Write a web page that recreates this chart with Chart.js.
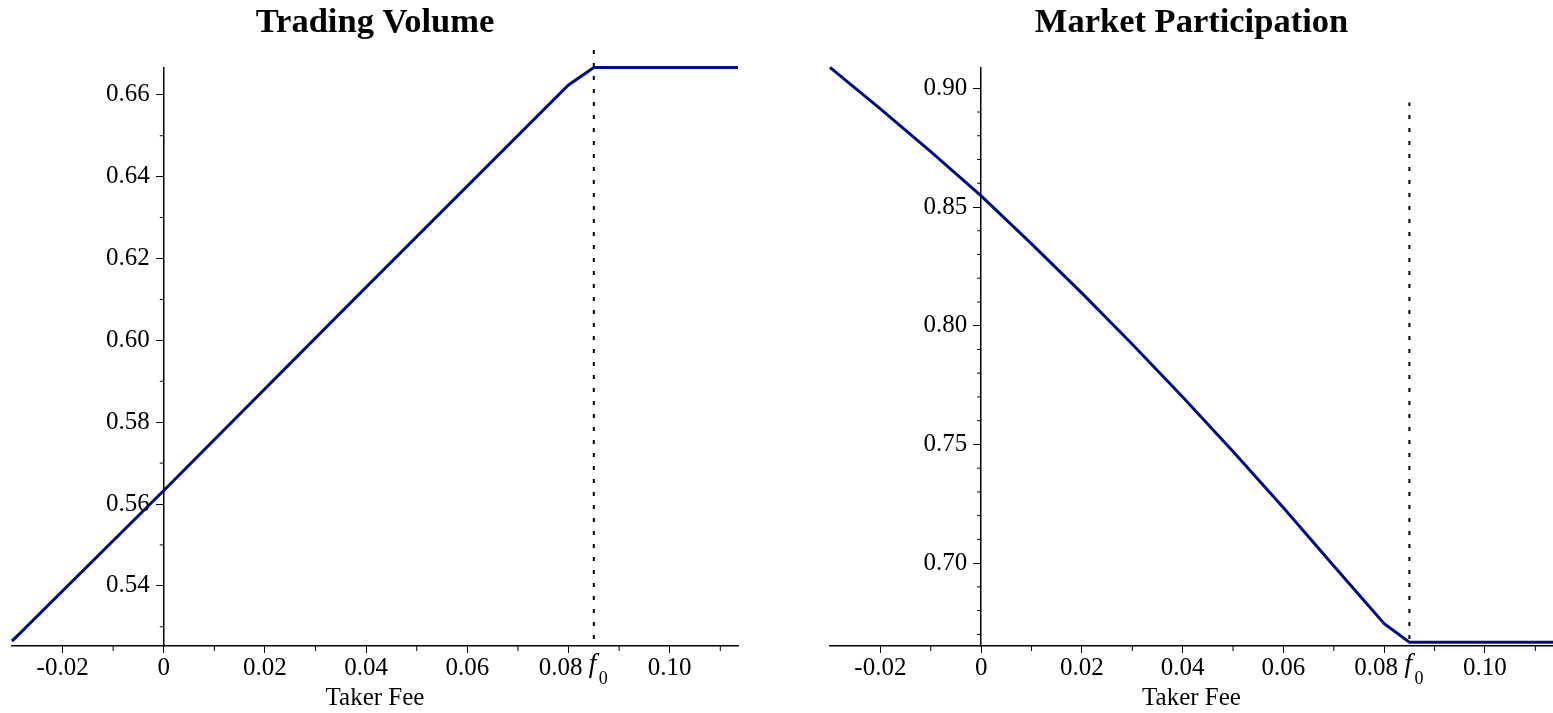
<!DOCTYPE html>
<html>
<head>
<meta charset="utf-8">
<script src="https://cdn.jsdelivr.net/npm/chart.js@4.4.0/dist/chart.umd.min.js"></script>
<style>
    body { margin: 0; background: #fff; width: 1553px; height: 713px; overflow: hidden; position: relative; }
    .box { position: absolute; top: 0; height: 713px; }
</style>
</head>
<body>
<div class="box" style="left:0;width:765px"><canvas id="volumeChart"></canvas></div>
<div class="box" style="left:788px;width:765px"><canvas id="participationChart"></canvas></div>
<script>
// Values
const feeThreshold = 0.085; // f0

const volumeFee = [-0.03, 0, 0.04, 0.08, 0.085, 0.1135];
const volumeValues = [0.5265, 0.5633, 0.6130, 0.6624, 0.6667, 0.6667];

const participationFee = [-0.03, -0.02, -0.01, 0, 0.01, 0.02, 0.03, 0.04, 0.05, 0.06, 0.07, 0.08, 0.085, 0.1135];
const participationValues = [0.9088, 0.8913, 0.8733, 0.8547, 0.8345, 0.8137, 0.7922, 0.7700, 0.7470, 0.7233, 0.6988, 0.6745, 0.6667, 0.6667];

const xTicks = [-0.02, 0, 0.02, 0.04, 0.06, 0.08, 0.10];
const xMinor = [-0.01, 0.01, 0.03, 0.05, 0.07, 0.09, 0.11];

const volumeYTicks = [0.54, 0.56, 0.58, 0.60, 0.62, 0.64, 0.66];
const volumeYMinor = [0.53, 0.55, 0.57, 0.59, 0.61, 0.63, 0.65];

const participationYTicks = [0.70, 0.75, 0.80, 0.85, 0.90];
const participationYMinor = [0.67, 0.68, 0.69, 0.71, 0.72, 0.73, 0.74, 0.76, 0.77, 0.78, 0.79,
                             0.81, 0.82, 0.83, 0.84, 0.86, 0.87, 0.88, 0.89];

Chart.defaults.font.family = '"Liberation Serif", "Times New Roman", serif';
Chart.defaults.color = '#000';

const lineColor = 'rgb(0, 14, 128)';

// the y axis sits at x = 0, push its labels clear of the tick marks;
// also nudge "0.08" left so it does not run into the f0 mark
const labelShift = {
    id: 'labelShift',
    beforeDraw(chart) {
        const yItems = chart.scales.y.getLabelItems();
        if (!yItems._shifted) {
            yItems.forEach(it => { it.options.translation[0] -= 14; });
            yItems._shifted = true;
        }
        const xItems = chart.scales.x.getLabelItems();
        if (!xItems._shifted) {
            xItems.forEach(it => { if (it.label === '0.08') it.options.translation[0] -= 8; });
            xItems._shifted = true;
        }
    }
};

// minor tick marks and the f0 label under the x axis
const extraMarks = {
    id: 'extraMarks',
    afterDraw(chart, args, opts) {
        const ctx = chart.ctx;
        const x = chart.scales.x;
        const y = chart.scales.y;
        const axisX = x.getPixelForValue(0);
        ctx.save();
        ctx.strokeStyle = '#000';
        ctx.lineWidth = 1;
        ctx.beginPath();
        xMinor.forEach(v => {
            const px = x.getPixelForValue(v);
            if (px < x.left || px > x.right) return;
            ctx.moveTo(px, x.top);
            ctx.lineTo(px, x.top + 5);
        });
        opts.yMinor.forEach(v => {
            const py = y.getPixelForValue(v);
            if (py < y.top - 1 || py > y.bottom) return;
            ctx.moveTo(axisX, py);
            ctx.lineTo(axisX - 4, py);
        });
        ctx.stroke();

        const fx = x.getPixelForValue(feeThreshold);
        ctx.fillStyle = '#000';
        ctx.textBaseline = 'alphabetic';
        ctx.font = 'italic 27px "Liberation Serif"';
        ctx.fillText('f', fx - 5, x.top + 26);
        ctx.font = '18px "Liberation Serif"';
        ctx.fillText('0', fx + 5, x.top + 38);
        ctx.restore();
    }
};

function makeChart(id, title, fees, values, yMin, yMax, yTicks, yMinor, dashTop, padding) {
    const ctx = document.getElementById(id);
    return new Chart(ctx, {
        type: 'line',
        data: {
            datasets: [{
                data: fees.map((f, i) => ({ x: f, y: values[i] })),
                borderColor: lineColor,
                borderWidth: 3,
                pointRadius: 0,
                tension: 0,
                clip: 3
            }, {
                data: [{ x: feeThreshold, y: yMin + (yMax - yMin) * 0.012 }, { x: feeThreshold, y: dashTop }],
                borderColor: '#000',
                borderWidth: 2,
                borderDash: [4, 9],
                pointRadius: 0,
                clip: false
            }]
        },
        options: {
            responsive: true,
            maintainAspectRatio: false,
            animation: false,
            layout: { padding: padding },
            scales: {
                x: {
                    type: 'linear',
                    min: -0.03,
                    max: 0.1135,
                    afterBuildTicks: scale => { scale.ticks = xTicks.map(v => ({ value: v })); },
                    ticks: {
                        font: { size: 25 },
                        padding: 0,
                        maxRotation: 0,
                        callback: v => v === 0 ? '0' : v.toFixed(2)
                    },
                    grid: { drawOnChartArea: false, drawTicks: true, tickLength: 7, color: '#000' },
                    border: { display: true, color: '#000', width: 1.5 },
                    title: { display: true, text: 'Taker Fee', font: { size: 25 }, padding: { top: 0, bottom: 0 } }
                },
                y: {
                    type: 'linear',
                    position: { x: 0 },
                    min: yMin,
                    max: yMax,
                    afterBuildTicks: scale => { scale.ticks = yTicks.map(v => ({ value: v })); },
                    ticks: {
                        font: { size: 25 },
                        callback: v => v.toFixed(2)
                    },
                    grid: { drawOnChartArea: false, drawTicks: true, tickLength: 7, color: '#000' },
                    border: { display: true, color: '#000', width: 1.5 }
                }
            },
            plugins: {
                legend: { display: false },
                tooltip: { enabled: false },
                title: {
                    display: true,
                    text: title,
                    font: { size: 34.5, weight: 'bold' },
                    color: '#000',
                    padding: { top: 2, bottom: 24 }
                },
                extraMarks: { yMinor: yMinor }
            }
        },
        plugins: [labelShift, extraMarks]
    });
}

makeChart('volumeChart', 'Trading Volume', volumeFee, volumeValues,
    0.5253, 0.6667, volumeYTicks, volumeYMinor, 0.6712,
    { left: 12, right: 27, top: 0, bottom: 0 });

makeChart('participationChart', 'Market Participation', participationFee, participationValues,
    0.6651, 0.9088, participationYTicks, participationYMinor, 0.894,
    { left: 42, right: 0, top: 0, bottom: 0 });
</script>
</body>
</html>
